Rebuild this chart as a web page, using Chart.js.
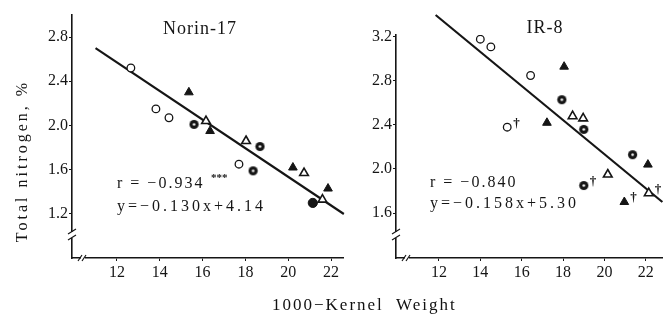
<!DOCTYPE html>
<html>
<head>
<meta charset="utf-8">
<script src="https://cdn.jsdelivr.net/npm/chart.js@4.4.0/dist/chart.umd.min.js"></script>
<style>
html, body { margin: 0; padding: 0; background: #fff; }
#wrap { position: relative; width: 669px; height: 324px; overflow: hidden; }
#left { position: absolute; left: 0; top: 0; width: 350px; height: 324px; }
#right { position: absolute; left: 330px; top: 0; width: 339px; height: 324px; }
#xtitle { position: absolute; left: 272px; top: 295px; font: 17px "Liberation Serif", serif; letter-spacing: 2px; color: #111; white-space: nowrap; }
</style>
</head>
<body>
<div id="wrap">
  <canvas id="left" width="350" height="324"></canvas>
  <canvas id="right" width="339" height="324"></canvas>
  <div id="xtitle">1000−Kernel&nbsp; Weight</div>
</div>
<script>
// ejes
const xTicks = [12, 14, 16, 18, 20, 22];
const norinYTicks = [1.2, 1.6, 2.0, 2.4, 2.8];
const irYTicks = [1.6, 2.0, 2.4, 2.8, 3.2];

// Norin-17 (x = peso de 1000 granos, y = N total %)
const norinOpenCircle = [[12.65, 2.52], [13.82, 2.15], [14.43, 2.07], [17.7, 1.65]];
const norinDotCircle = [[15.6, 2.01], [18.68, 1.81], [18.36, 1.59]];
const norinFilledCircle = [[21.15, 1.30]];
const norinOpenTriangle = [[16.16, 2.04], [18.03, 1.86], [20.74, 1.57], [21.6, 1.33]];
const norinFilledTriangle = [[15.36, 2.30], [16.35, 1.95], [20.22, 1.62], [21.86, 1.43]];
const norinLine = [[11.0, 2.70], [22.6, 1.20]];

// IR-8
const irOpenCircle = [[14.0, 3.18], [14.51, 3.11], [16.43, 2.85]];
const irOpenCircleDagger = [[15.3, 2.38]];
const irDotCircle = [[17.94, 2.63], [19.0, 2.36], [21.36, 2.13]];
const irDotCircleDagger = [[19.0, 1.85]];
const irOpenTriangle = [[18.46, 2.48], [18.97, 2.46], [20.16, 1.95]];
const irOpenTriangleDagger = [[22.14, 1.78]];
const irFilledTriangle = [[18.05, 2.93], [17.22, 2.42], [22.1, 2.04]];
const irFilledTriangleDagger = [[20.96, 1.70]];
const irLine = [[11.84, 3.40], [22.8, 1.70]];

const FONT = '"Liberation Serif", serif';
const INK = '#151515';

// circulo negro con punto blanco
function dotCircleImage() {
    const c = document.createElement('canvas');
    c.width = 11; c.height = 11;
    const g = c.getContext('2d');
    g.fillStyle = INK;
    g.beginPath(); g.arc(5.5, 5.5, 4.6, 0, Math.PI * 2); g.fill();
    g.fillStyle = '#fff';
    g.beginPath(); g.arc(5.5, 5.5, 1.3, 0, Math.PI * 2); g.fill();
    return c;
}
const dotImg = dotCircleImage();

const pts = arr => arr.map(p => ({ x: p[0], y: p[1] }));

const estilos = {
    openCircle: { pointStyle: 'circle', pointRadius: 3.8, backgroundColor: '#fff', borderColor: INK, borderWidth: 1.3 },
    dotCircle: { pointStyle: dotImg, pointRadius: 5 },
    filledCircle: { pointStyle: 'circle', pointRadius: 4.6, backgroundColor: INK, borderColor: INK, borderWidth: 1 },
    openTriangle: { pointStyle: 'triangle', pointRadius: 5, backgroundColor: '#fff', borderColor: INK, borderWidth: 1.6 },
    filledTriangle: { pointStyle: 'triangle', pointRadius: 5, backgroundColor: INK, borderColor: INK, borderWidth: 1 }
};

function serie(datos, estilo, dagger) {
    return Object.assign({ type: 'scatter', data: pts(datos), order: 0, dagger: !!dagger, pointHoverRadius: 5 }, estilos[estilo]);
}

function recta(datos) {
    return { type: 'line', data: pts(datos), borderColor: INK, borderWidth: 2.2, pointRadius: 0, fill: false, order: 10, clip: false };
}

const decorPlugin = {
    id: 'decor',
    afterDraw(chart, args, opts) {
        const ctx = chart.ctx;
        const a = chart.chartArea;
        ctx.save();
        ctx.strokeStyle = INK;
        ctx.lineWidth = 1.2;

        // cortes de eje
        const yb = a.bottom - 23;
        ctx.fillStyle = '#fff';
        ctx.fillRect(a.left - 2, yb - 3, 4, 6);
        ctx.beginPath();
        ctx.moveTo(a.left - 4, yb - 1); ctx.lineTo(a.left + 4, yb - 6);
        ctx.moveTo(a.left - 4, yb + 5); ctx.lineTo(a.left + 4, yb + 0);
        ctx.stroke();
        const xb = a.left + 11;
        ctx.fillRect(xb - 2, a.bottom - 2, 4, 4);
        ctx.beginPath();
        ctx.moveTo(xb - 5, a.bottom + 3); ctx.lineTo(xb - 1, a.bottom - 3);
        ctx.moveTo(xb - 1, a.bottom + 3); ctx.lineTo(xb + 3, a.bottom - 3);
        ctx.stroke();

        // cruces (†)
        ctx.fillStyle = INK;
        ctx.font = 'bold 13px ' + FONT;
        ctx.textAlign = 'left';
        ctx.textBaseline = 'middle';
        chart.data.datasets.forEach((ds, i) => {
            if (!ds.dagger) return;
            chart.getDatasetMeta(i).data.forEach(p => ctx.fillText('†', p.x + 6, p.y - 4));
        });

        // textos
        (opts.textos || []).forEach(t => {
            ctx.save();
            ctx.font = (t.bold ? 'bold ' : '') + t.size + 'px ' + FONT;
            ctx.letterSpacing = (t.spacing || 0) + 'px';
            ctx.textAlign = t.align || 'left';
            ctx.textBaseline = 'alphabetic';
            ctx.translate(t.x, t.y);
            if (t.rot) ctx.rotate(t.rot);
            ctx.fillText(t.text, 0, 0);
            ctx.restore();
        });
        ctx.restore();
    }
};

function crearPanel(id, datasets, cfg) {
    const ctx = document.getElementById(id).getContext('2d');
    return new Chart(ctx, {
        type: 'scatter',
        data: { datasets: datasets },
        options: {
            responsive: false,
            animation: false,
            layout: { padding: { left: 0, top: cfg.top, right: cfg.right, bottom: 0 } },
            scales: {
                x: {
                    type: 'linear',
                    min: cfg.xMin,
                    max: cfg.xMax,
                    afterBuildTicks: s => { s.ticks = xTicks.map(v => ({ value: v })); },
                    afterFit: s => { s.height = 66; },
                    ticks: { font: { family: FONT, size: 16 }, color: INK, padding: 2, maxRotation: 0, callback: v => String(v) },
                    grid: { drawOnChartArea: false, drawTicks: true, tickLength: 3, color: INK },
                    border: { color: INK, width: 1.6 }
                },
                y: {
                    type: 'linear',
                    min: cfg.yMin,
                    max: cfg.yMax,
                    afterBuildTicks: s => { s.ticks = cfg.yTicks.map(v => ({ value: v })); },
                    afterFit: s => { s.width = cfg.yWidth; },
                    ticks: { font: { family: FONT, size: 16 }, color: INK, padding: 1, callback: v => v.toFixed(1) },
                    grid: { drawOnChartArea: false, drawTicks: true, tickLength: 3, color: INK },
                    border: { color: INK, width: 1.6 }
                }
            },
            plugins: {
                legend: { display: false },
                tooltip: { enabled: false },
                decor: { textos: cfg.textos }
            }
        },
        plugins: [decorPlugin]
    });
}

crearPanel('left', [
    recta(norinLine),
    serie(norinOpenCircle, 'openCircle'),
    serie(norinDotCircle, 'dotCircle'),
    serie(norinFilledCircle, 'filledCircle'),
    serie(norinOpenTriangle, 'openTriangle'),
    serie(norinFilledTriangle, 'filledTriangle')
], {
    top: 15, right: 7, yWidth: 72,
    xMin: 9.9, xMax: 22.56, yMin: 0.802, yMax: 2.999,
    yTicks: norinYTicks,
    textos: [
        { text: 'Norin-17', x: 200, y: 34, size: 18, spacing: 1, align: 'center' },
        { text: 'r = −0.934', x: 117, y: 188, size: 16, spacing: 2 },
        { text: '***', x: 211, y: 181, size: 11, spacing: 0, bold: true },
        { text: 'y=−0.130x+4.14', x: 117, y: 211, size: 16, spacing: 3 },
        { text: 'Total nitrogen, %', x: 27, y: 161, size: 16, spacing: 3, align: 'center', rot: -Math.PI / 2 }
    ]
});

crearPanel('right', [
    recta(irLine),
    serie(irOpenCircle, 'openCircle'),
    serie(irOpenCircleDagger, 'openCircle', true),
    serie(irDotCircle, 'dotCircle'),
    serie(irDotCircleDagger, 'dotCircle', true),
    serie(irOpenTriangle, 'openTriangle'),
    serie(irOpenTriangleDagger, 'openTriangle', true),
    serie(irFilledTriangle, 'filledTriangle'),
    serie(irFilledTriangleDagger, 'filledTriangle', true)
], {
    top: 35, right: 0, yWidth: 66,
    xMin: 9.925, xMax: 22.8, yMin: 1.191, yMax: 3.218,
    yTicks: irYTicks,
    textos: [
        { text: 'IR-8', x: 215, y: 33, size: 18, spacing: 1, align: 'center' },
        { text: 'r = −0.840', x: 100, y: 187, size: 16, spacing: 2 },
        { text: 'y=−0.158x+5.30', x: 100, y: 208, size: 16, spacing: 3 }
    ]
});
</script>
</body>
</html>
